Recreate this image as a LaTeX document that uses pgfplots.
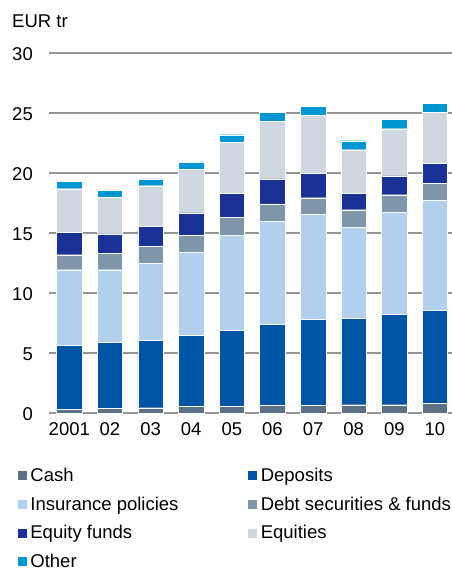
\documentclass[border=0pt]{standalone}
\usepackage{pgfplots}
\pgfplotsset{compat=1.18}
\usepackage{pgfplotstable}
\usepackage{fontspec}
\setmainfont{Liberation Sans}
\definecolor{cCash}{HTML}{5D7186}
\definecolor{cDep}{HTML}{0054A6}
\definecolor{cIns}{HTML}{B3D0EE}
\definecolor{cDebt}{HTML}{8096AB}
\definecolor{cEF}{HTML}{1A3195}
\definecolor{cEq}{HTML}{CFD8E0}
\definecolor{cOth}{HTML}{0096D3}
\definecolor{cGrid}{HTML}{959595}
\pgfplotstableread{
x cash dep ins debt ef eq oth
0 0.28 5.33 6.33 1.25 1.84 3.66 0.59
1 0.36 5.50 6.08 1.34 1.64 3.05 0.59
2 0.44 5.62 6.41 1.39 1.72 3.36 0.56
3 0.53 5.94 6.92 1.44 1.84 3.64 0.61
4 0.53 6.36 7.91 1.48 2.00 4.28 0.63
5 0.61 6.78 8.61 1.42 2.08 4.83 0.75
6 0.61 7.17 8.75 1.41 2.03 4.84 0.77
7 0.69 7.20 7.58 1.47 1.39 3.61 0.75
8 0.69 7.53 8.53 1.44 1.56 3.94 0.78
9 0.78 7.78 9.16 1.42 1.67 4.22 0.80
}\data
\newcommand{\F}{\fontsize{18.5}{22}\selectfont}
\begin{document}
\begin{tikzpicture}
\begin{axis}[
  at={(0,0)}, anchor=south west,
  scale only axis, width=403pt, height=360pt,
  ybar stacked, bar width=25.5pt,
  xmin=-0.5, xmax=9.42, ymin=0, ymax=30,
  ytick={0,5,...,30},
  xtick={0,...,9},
  xticklabels={2001,02,03,04,05,06,07,08,09,10},
  major tick length=0pt,
  axis line style={draw=none},
  ymajorgrids, major grid style={cGrid, line width=1.2pt},
  /pgf/number format/assume math mode=true,
  yticklabel style={font=\F, anchor=east, inner sep=0pt, xshift=-16pt, yshift=-1.5pt},
  xticklabel style={font=\F, anchor=north, inner sep=0pt, yshift=-9pt},
  every axis plot/.append style={draw=white, line width=0.4pt},
  legend columns=2,
  legend cell align=left,
  legend image code/.code={\fill[#1] (0pt,1pt) rectangle (10pt,11pt);},
  legend style={at={(axis description cs:-0.0794,-0.1547)}, anchor=north west,
    draw=none, fill=none, inner sep=0pt, outer sep=0pt,
    row sep=11.6pt, column sep=0pt,
    nodes={inner sep=0pt, outer sep=0pt, text height=13pt, text depth=4pt, anchor=base west, font=\F},
    /tikz/every odd column/.append style={column sep=3pt}},
]
\addplot[fill=cCash] table[x=x,y=cash]{\data};
\addplot[fill=cDep] table[x=x,y=dep]{\data};
\addplot[fill=cIns] table[x=x,y=ins]{\data};
\addplot[fill=cDebt] table[x=x,y=debt]{\data};
\addplot[fill=cEF] table[x=x,y=ef]{\data};
\addplot[fill=cEq] table[x=x,y=eq]{\data};
\addplot[fill=cOth] table[x=x,y=oth]{\data};
\legend{\makebox[217pt][l]{Cash},Deposits,\makebox[217pt][l]{Insurance policies},Debt securities \& funds,\makebox[217pt][l]{Equity funds},Equities,\makebox[217pt][l]{Other}}
\end{axis}
\node[anchor=base west, inner sep=0pt, font=\F] at (-37pt,385pt) {EUR tr};
\pgfresetboundingbox
\path[use as bounding box] (-49pt,-157pt) rectangle (403pt,413pt);
\end{tikzpicture}
\end{document}
